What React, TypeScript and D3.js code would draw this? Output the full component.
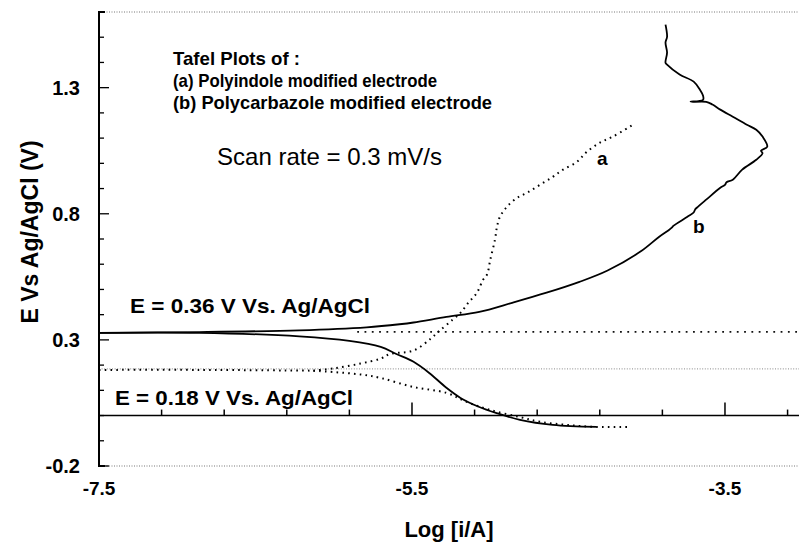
import React from 'react';
import * as d3 from 'd3';

// curve (a) polyindole - dotted, [log i, E]
const curveAStart = [[-7.5, 0.181], [-6.86, 0.181], [-6.13, 0.178]];
const curveAAnodic = [
  [-6.13, 0.178], [-6.0, 0.187], [-5.83, 0.206], [-5.70, 0.226], [-5.64, 0.244], [-5.49, 0.258],
  [-5.38, 0.305], [-5.33, 0.333], [-5.24, 0.380], [-5.19, 0.407], [-5.14, 0.447],
  [-5.085, 0.487], [-5.046, 0.538], [-5.02, 0.560], [-5.00, 0.617], [-4.97, 0.697],
  [-4.957, 0.748], [-4.938, 0.788], [-4.893, 0.828], [-4.829, 0.863], [-4.765, 0.883],
  [-4.682, 0.915], [-4.599, 0.947], [-4.535, 0.975], [-4.446, 1.006], [-4.382, 1.046],
  [-4.299, 1.082], [-4.216, 1.106], [-4.088, 1.153]
];
const curveACathodic = [
  [-6.13, 0.178], [-5.83, 0.163], [-5.70, 0.149], [-5.49, 0.113], [-5.28, 0.090],
  [-5.15, 0.054], [-5.00, 0.022], [-4.81, -0.006], [-4.68, -0.025], [-4.51, -0.037],
  [-4.32, -0.045], [-4.11, -0.045]
];

// curve (b) polycarbazole - solid
const curveBAnodic = [
  [-7.5, 0.328], [-6.86, 0.331], [-6.22, 0.338], [-5.79, 0.350], [-5.58, 0.362],
  [-5.49, 0.369], [-5.28, 0.391], [-5.07, 0.411], [-4.86, 0.447], [-4.64, 0.487],
  [-4.43, 0.530], [-4.25, 0.575], [-4.04, 0.650], [-3.92, 0.709], [-3.86, 0.735],
  [-3.84, 0.745], [-3.83, 0.752], [-3.74, 0.788], [-3.70, 0.805], [-3.69, 0.818], [-3.68, 0.824],
  [-3.62, 0.856], [-3.53, 0.903], [-3.50, 0.915], [-3.49, 0.925], [-3.45, 0.935],
  [-3.39, 0.975], [-3.30, 1.014], [-3.26, 1.040], [-3.27, 1.050], [-3.23, 1.066],
  [-3.26, 1.106], [-3.30, 1.133], [-3.36, 1.153], [-3.45, 1.185], [-3.53, 1.213],
  [-3.58, 1.233], [-3.62, 1.244], [-3.72, 1.244], [-3.64, 1.252], [-3.64, 1.268],
  [-3.66, 1.292], [-3.70, 1.324], [-3.79, 1.352], [-3.87, 1.391], [-3.88, 1.399],
  [-3.87, 1.439], [-3.88, 1.479], [-3.87, 1.502], [-3.88, 1.550]
];
const curveBCathodic = [
  [-7.5, 0.328], [-6.86, 0.328], [-6.22, 0.314], [-5.90, 0.296], [-5.70, 0.272],
  [-5.60, 0.244], [-5.49, 0.213], [-5.39, 0.169], [-5.28, 0.110], [-5.19, 0.070],
  [-5.07, 0.034], [-4.96, 0.010], [-4.81, -0.017], [-4.60, -0.037], [-4.32, -0.045]
];

// reference potentials (horizontal dotted lines)
const refDark = 0.332;
const refLight = 0.185;

const yLabelTicks = [-0.2, 0.3, 0.8, 1.3];
const xLabelTicks = [-7.5, -5.5, -3.5];
const xMajorTicks = [-5.5, -3.5];
const xMinorTicks = [-7.1, -6.7, -6.3, -5.9, -5.1, -4.7, -4.3, -3.9, -3.1];

const W = 799, H = 548;
const FONT = 'Liberation Sans, Arial, Helvetica, sans-serif';
const NARROW = 'Liberation Sans Narrow, Arial Narrow, Liberation Sans, Arial, sans-serif';

export default function App() {
  const x = d3.scaleLinear().domain([-7.5, -3.027]).range([99, 799]);
  const y = d3.scaleLinear().domain([-0.2, 1.6]).range([466, 12]);

  const line = d3.line<number[]>()
    .x(d => x(d[0]))
    .y(d => y(d[1]))
    .curve(d3.curveCatmullRom.alpha(0.5));

  const yMinor = d3.range(-0.2, 1.61, 0.1).map(v => +v.toFixed(1));
  const x0 = x.range()[0], x1 = x.range()[1];
  const y0 = y(0);

  return (
    <svg width={W} height={H} style={{ position: 'absolute', left: 0, top: 0, background: '#fff' }}
      fontFamily={FONT}>
      <rect width={W} height={H} fill="#fff" />

      {/* frame: dotted top and bottom */}
      <line x1={x0} x2={x1} y1={y(1.6)} y2={y(1.6)} stroke="#777" strokeWidth={1} strokeDasharray="1 1.5" />
      <line x1={x0} x2={x1} y1={y(-0.2)} y2={y(-0.2)} stroke="#777" strokeWidth={1} strokeDasharray="1 1.5" />

      {/* reference lines */}
      <line x1={x(-5.85)} x2={x1} y1={y(refDark)} y2={y(refDark)} stroke="#111" strokeWidth={1.8} strokeDasharray="1.8 5.5" />
      <line x1={x0} x2={x1} y1={y(refLight)} y2={y(refLight)} stroke="#888" strokeWidth={1} strokeDasharray="1 1.6" />

      {/* left spine */}
      <path d={`M${x0 + 6},${y(1.6)}H${x0}V${y(-0.2)}H${x0 + 6}`} fill="none" stroke="#000" strokeWidth={2} />
      {yMinor.map(v => (
        <line key={'ym' + v} x1={x0} x2={x0 + (yLabelTicks.includes(v) ? 10 : 5)} y1={y(v)} y2={y(v)}
          stroke="#000" strokeWidth={1.3} />
      ))}
      {yLabelTicks.map(v => (
        <text key={'yl' + v} x={80} y={y(v)} dy="0.36em" textAnchor="end" fontSize={20} fontWeight="bold">
          {v.toFixed(1)}
        </text>
      ))}

      {/* x axis drawn at E = 0 */}
      <line x1={x0} x2={x1} y1={y0} y2={y0} stroke="#000" strokeWidth={1.6} />
      {xMajorTicks.map(v => (
        <line key={'xM' + v} x1={x(v)} x2={x(v)} y1={y0} y2={y0 - 13} stroke="#000" strokeWidth={1.5} />
      ))}
      {xMinorTicks.map(v => (
        <line key={'xm' + v} x1={x(v)} x2={x(v)} y1={y0} y2={y0 - 6} stroke="#000" strokeWidth={1.5} />
      ))}
      {xLabelTicks.map(v => (
        <text key={'xl' + v} x={x(v)} y={495} textAnchor="middle" fontSize={19} fontWeight="bold">
          {v.toFixed(1)}
        </text>
      ))}

      {/* curve a (dotted) */}
      {[curveAStart, curveAAnodic, curveACathodic].map((c, i) => (
        <path key={'a' + i} d={line(c) || ''} fill="none" stroke="#000" strokeWidth={2}
          strokeDasharray="1.6 4.2" />
      ))}

      {/* curve b (solid) */}
      {[curveBAnodic, curveBCathodic].map((c, i) => (
        <path key={'b' + i} d={line(c) || ''} fill="none" stroke="#000" strokeWidth={1.8} strokeLinejoin="round" />
      ))}

      {/* axis titles */}
      <text x={449} y={537} textAnchor="middle" fontSize={22} fontWeight="bold">Log [i/A]</text>
      <text transform="translate(38,232) rotate(-90)" textAnchor="middle" fontSize={23} fontWeight="bold">
        E Vs Ag/AgCl (V)
      </text>

      {/* legend text */}
      <g fontFamily={NARROW} fontWeight="bold" fontSize={18.5}>
        <text x={173} y={65} textLength={127} lengthAdjust="spacingAndGlyphs">Tafel Plots of :</text>
        <text x={173} y={87} textLength={264} lengthAdjust="spacingAndGlyphs">(a) Polyindole modified electrode</text>
        <text x={173} y={109} textLength={319} lengthAdjust="spacingAndGlyphs">(b) Polycarbazole modified electrode</text>
      </g>
      <text x={217} y={165} fontSize={24} textLength={225} lengthAdjust="spacingAndGlyphs">Scan rate = 0.3 mV/s</text>

      <text x={130} y={313} fontSize={21} fontWeight="bold" textLength={240} lengthAdjust="spacingAndGlyphs">E = 0.36 V Vs. Ag/AgCl</text>
      <text x={115} y={405} fontSize={21} fontWeight="bold" textLength={238} lengthAdjust="spacingAndGlyphs">E = 0.18 V Vs. Ag/AgCl</text>

      <text x={597} y={165} fontSize={19} fontWeight="bold">a</text>
      <text x={693} y={233} fontSize={19} fontWeight="bold">b</text>
    </svg>
  );
}
